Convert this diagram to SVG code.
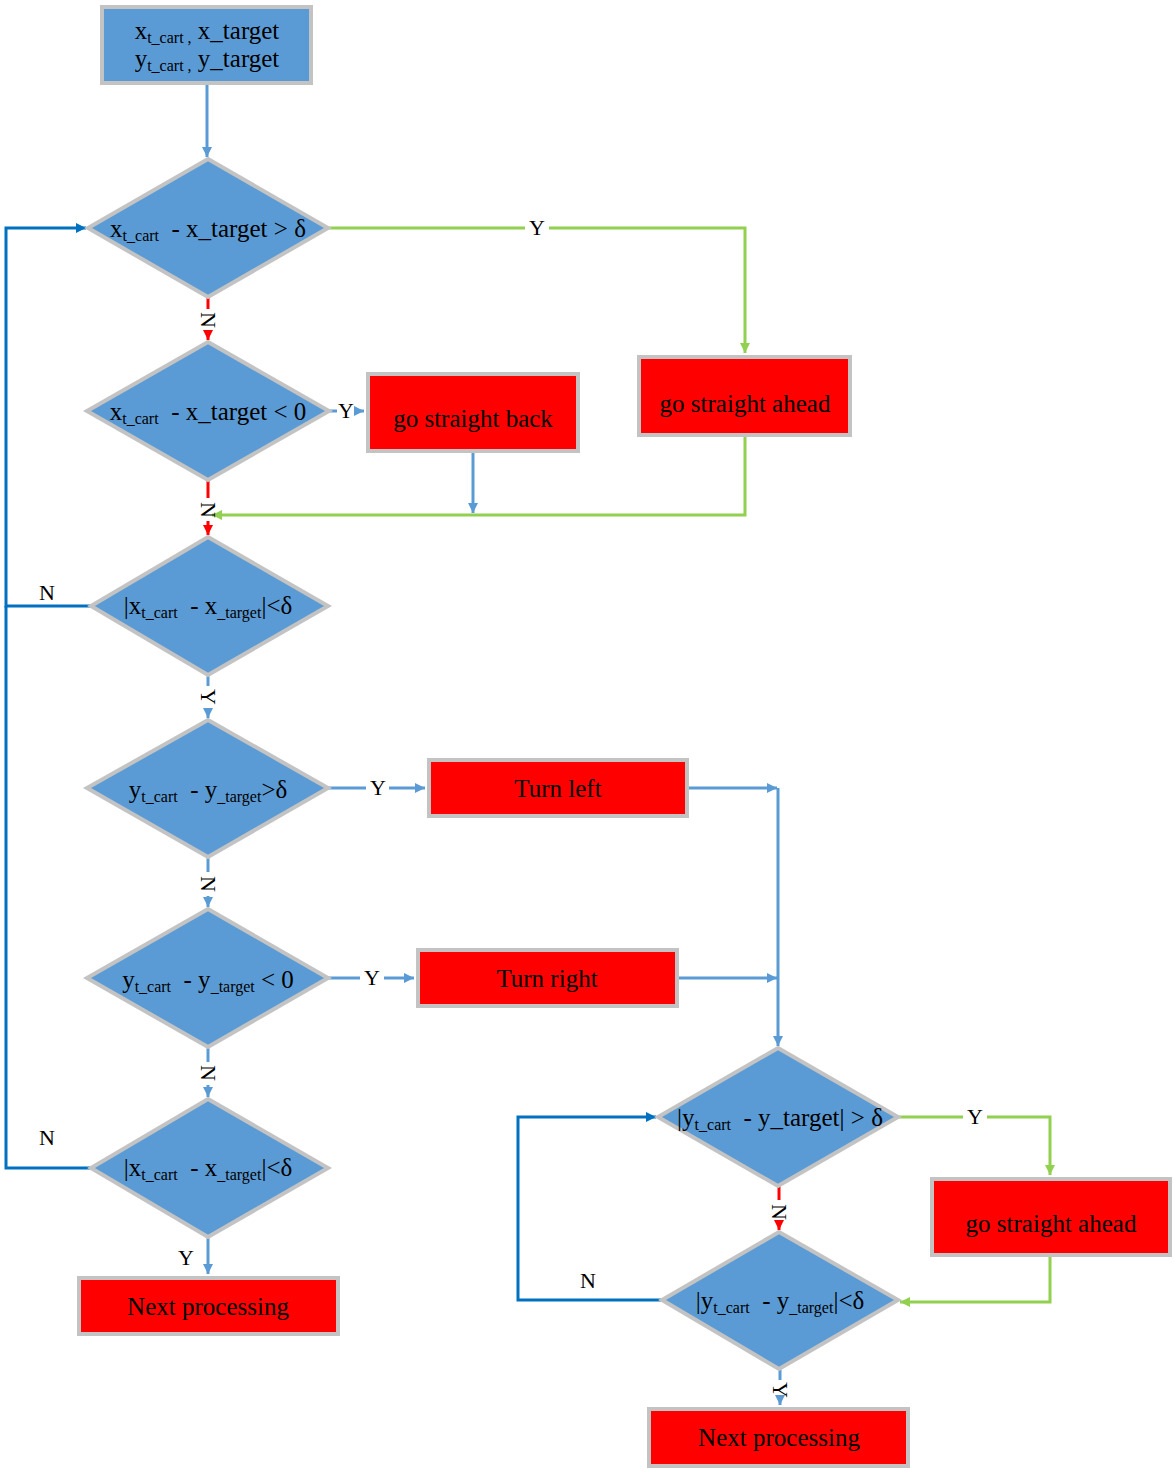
<svg xmlns="http://www.w3.org/2000/svg" width="1176" height="1474" viewBox="0 0 1176 1474">
<defs>
<style>
.dia{fill:#5B9BD5;stroke:#C3C3C3;stroke-width:4}
.box{fill:#FF0000;stroke:#C3C3C3;stroke-width:4}
.inbox{fill:#5B9BD5;stroke:#C3C3C3;stroke-width:4}
text{font-family:"Liberation Serif","Times New Roman",serif;fill:#000}
.t{font-size:25px;text-anchor:middle}
.s{font-size:16px}
.lbl{font-size:22px;text-anchor:middle}
.lb{fill:none;stroke:#5B9BD5;stroke-width:3}
.rd{fill:none;stroke:#FF0000;stroke-width:3}
.gr{fill:none;stroke:#92D050;stroke-width:3}
.db{fill:none;stroke:#0070C0;stroke-width:3}
</style>
<marker id="aLB" markerUnits="userSpaceOnUse" markerWidth="12" markerHeight="12" refX="10" refY="5" orient="auto"><path d="M0,0 L10,5 L0,10 Z" fill="#5B9BD5"/></marker>
<marker id="aRD" markerUnits="userSpaceOnUse" markerWidth="12" markerHeight="12" refX="10" refY="5" orient="auto"><path d="M0,0 L10,5 L0,10 Z" fill="#FF0000"/></marker>
<marker id="aGR" markerUnits="userSpaceOnUse" markerWidth="12" markerHeight="12" refX="10" refY="5" orient="auto"><path d="M0,0 L10,5 L0,10 Z" fill="#92D050"/></marker>
<marker id="aDB" markerUnits="userSpaceOnUse" markerWidth="12" markerHeight="12" refX="10" refY="5" orient="auto"><path d="M0,0 L10,5 L0,10 Z" fill="#0070C0"/></marker>
</defs>
<rect width="1176" height="1474" fill="#FFFFFF"/>

<g id="connectors">
<path class="lb" d="M207,85 V157" marker-end="url(#aLB)"/>
<path class="lb" d="M330,411 H337"/>
<path class="lb" d="M356,411 H364" marker-end="url(#aLB)"/>
<path class="lb" d="M473,453 V513" marker-end="url(#aLB)"/>
<path class="lb" d="M208,675 V686"/>
<path class="lb" d="M208,708 V718" marker-end="url(#aLB)"/>
<path class="lb" d="M328,788 H366"/>
<path class="lb" d="M389,788 H425" marker-end="url(#aLB)"/>
<path class="lb" d="M689,788 H777" marker-end="url(#aLB)"/>
<path class="lb" d="M778,788 V1046" marker-end="url(#aLB)"/>
<path class="lb" d="M208,857 V872"/>
<path class="lb" d="M208,896 V907" marker-end="url(#aLB)"/>
<path class="lb" d="M328,978 H360"/>
<path class="lb" d="M384,978 H414" marker-end="url(#aLB)"/>
<path class="lb" d="M679,978 H777" marker-end="url(#aLB)"/>
<path class="lb" d="M208,1047 V1062"/>
<path class="lb" d="M208,1085 V1097" marker-end="url(#aLB)"/>
<path class="lb" d="M208,1237 V1274" marker-end="url(#aLB)"/>
<path class="lb" d="M780,1369 V1380"/>
<path class="lb" d="M780,1400 V1405" marker-end="url(#aLB)"/>
<path class="rd" d="M208,297 V309"/>
<path class="rd" d="M208,331 V340" marker-end="url(#aRD)"/>
<path class="rd" d="M208,480 V498"/>
<path class="rd" d="M208,521 V535" marker-end="url(#aRD)"/>
<path class="rd" d="M779,1186 V1200"/>
<path class="rd" d="M779,1223 V1230" marker-end="url(#aRD)"/>
<path class="gr" d="M328,228 H525"/>
<path class="gr" d="M549,228 H745 V353" marker-end="url(#aGR)"/>
<path class="gr" d="M745,437 V515 H212" marker-end="url(#aGR)"/>
<path class="gr" d="M898,1117 H963"/>
<path class="gr" d="M987,1117 H1050 V1175" marker-end="url(#aGR)"/>
<path class="gr" d="M1050,1257 V1302 H900" marker-end="url(#aGR)"/>
<path class="db" d="M91,606 H6 V228 H86" marker-end="url(#aDB)"/>
<path class="db" d="M91,1168 H6 V606"/>
<path class="db" d="M662,1300 H518 V1117 H656" marker-end="url(#aDB)"/>
<text class="lbl" x="537" y="235">Y</text>
<text class="lbl" x="346" y="418">Y</text>
<text class="lbl" x="378" y="795">Y</text>
<text class="lbl" x="372" y="985">Y</text>
<text class="lbl" x="975" y="1124">Y</text>
<text class="lbl" x="186" y="1265">Y</text>
<text class="lbl" x="47" y="600">N</text>
<text class="lbl" x="47" y="1145">N</text>
<text class="lbl" x="588" y="1288">N</text>
<text class="lbl" transform="translate(208,320) rotate(90)" x="0" y="7">N</text>
<text class="lbl" transform="translate(208,510) rotate(90)" x="0" y="7">N</text>
<text class="lbl" transform="translate(208,884) rotate(90)" x="0" y="7">N</text>
<text class="lbl" transform="translate(208,1073) rotate(90)" x="0" y="7">N</text>
<text class="lbl" transform="translate(779,1212) rotate(90)" x="0" y="7">N</text>
<text class="lbl" transform="translate(208,697) rotate(90)" x="0" y="7">Y</text>
<text class="lbl" transform="translate(780,1390) rotate(90)" x="0" y="7">Y</text>
</g>

<g id="start">
<rect class="inbox" x="102" y="7" width="209" height="76"/>
<text class="t" x="207" y="39">x<tspan class="s" dy="4">t_cart ,</tspan><tspan dy="-4"> x_target</tspan></text>
<text class="t" x="207" y="67">y<tspan class="s" dy="4">t_cart ,</tspan><tspan dy="-4"> y_target</tspan></text>
</g>

<g id="d1">
<polygon class="dia" points="208,159 328,228 208,297 88,228"/>
<text class="t" x="208" y="237">x<tspan class="s" dy="4">t_cart</tspan><tspan dy="-4">&#160; - x_target &gt; δ</tspan></text>
</g>
<g id="d2">
<polygon class="dia" points="208,342 329,411 208,480 87,411"/>
<text class="t" x="208" y="420">x<tspan class="s" dy="4">t_cart</tspan><tspan dy="-4">&#160; - x_target &lt; 0</tspan></text>
</g>
<g id="d3">
<polygon class="dia" points="208,537 328,606 208,675 91,606"/>
<text class="t" x="208" y="614">|x<tspan class="s" dy="4">t_cart</tspan><tspan dy="-4">&#160; - x</tspan><tspan class="s" dy="4">_target</tspan><tspan dy="-4">|&lt;δ</tspan></text>
</g>
<g id="d4">
<polygon class="dia" points="208,720 328,788 208,857 87,788"/>
<text class="t" x="208" y="798">y<tspan class="s" dy="4">t_cart</tspan><tspan dy="-4">&#160; - y</tspan><tspan class="s" dy="4">_target</tspan><tspan dy="-4">&gt;δ</tspan></text>
</g>
<g id="d5">
<polygon class="dia" points="208,909 328,978 208,1047 87,978"/>
<text class="t" x="208" y="988">y<tspan class="s" dy="4">t_cart</tspan><tspan dy="-4">&#160; - y</tspan><tspan class="s" dy="4">_target</tspan><tspan dy="-4"> &lt; 0</tspan></text>
</g>
<g id="d6">
<polygon class="dia" points="208,1099 328,1168 208,1237 91,1168"/>
<text class="t" x="208" y="1176">|x<tspan class="s" dy="4">t_cart</tspan><tspan dy="-4">&#160; - x</tspan><tspan class="s" dy="4">_target</tspan><tspan dy="-4">|&lt;δ</tspan></text>
</g>
<g id="d7">
<polygon class="dia" points="778,1048 898,1117 778,1186 658,1117"/>
<text class="t" x="780" y="1126">|y<tspan class="s" dy="4">t_cart</tspan><tspan dy="-4">&#160; - y_target| &gt; δ</tspan></text>
</g>
<g id="d8">
<polygon class="dia" points="779,1232 898,1300 779,1369 662,1300"/>
<text class="t" x="780" y="1309">|y<tspan class="s" dy="4">t_cart</tspan><tspan dy="-4">&#160; - y</tspan><tspan class="s" dy="4">_target</tspan><tspan dy="-4">|&lt;δ</tspan></text>
</g>

<g id="back">
<rect class="box" x="368" y="374" width="210" height="77"/>
<text class="t" x="473" y="427">go straight back</text>
</g>
<g id="ahead1">
<rect class="box" x="639" y="357" width="211" height="78"/>
<text class="t" x="745" y="412">go straight ahead</text>
</g>
<g id="left">
<rect class="box" x="429" y="760" width="258" height="56"/>
<text class="t" x="558" y="797">Turn left</text>
</g>
<g id="right">
<rect class="box" x="418" y="950" width="259" height="56"/>
<text class="t" x="547" y="987">Turn right</text>
</g>
<g id="next1">
<rect class="box" x="79" y="1278" width="259" height="56"/>
<text class="t" x="208" y="1315">Next processing</text>
</g>
<g id="ahead2">
<rect class="box" x="932" y="1179" width="238" height="76"/>
<text class="t" x="1051" y="1232">go straight ahead</text>
</g>
<g id="next2">
<rect class="box" x="649" y="1409" width="259" height="57"/>
<text class="t" x="779" y="1446">Next processing</text>
</g>
</svg>
